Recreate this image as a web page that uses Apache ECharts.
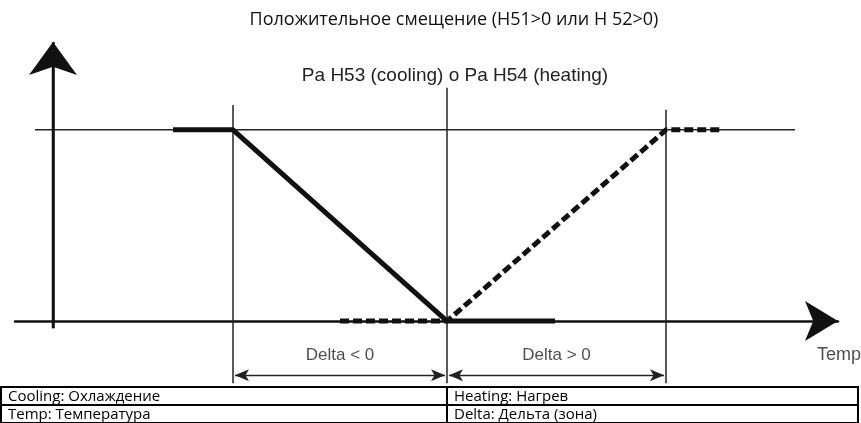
<!DOCTYPE html>
<html><head><meta charset="utf-8">
<script src="https://cdn.jsdelivr.net/npm/echarts@6/dist/echarts.min.js"></script>
<style>html,body{margin:0;padding:0;background:#fff}#c{width:861px;height:423px}</style>
</head><body><div id="c"></div>
<script>
// ---- data (arbitrary temperature units, output 0..1) ----
const titleText = 'Положительное смещение (H51>0 или H 52>0)';
const paramText = 'Pa H53 (cooling) o Pa H54 (heating)';
const coolingX = [12, 18, 39.4, 50.2];
const coolingY = [1, 1, 0, 0];
const heatingX = [28.7, 39.4, 61.3, 66.7];
const heatingY = [0, 0, 1, 1];
const levelX = [-1.8, 74.2];
const levelY = [1, 1];
const guideX = [18, 39.4, 61.3];
const guideTop = [1.13, 1.22, 1.105];
const guideBottom = -0.325;
const yAxisLine = [[0, -0.037], [0, 1.46]];
const deltaY = -0.283;
const deltaSpans = [[18, 39.4], [39.4, 61.3]];
const deltaLabels = ['Delta < 0', 'Delta > 0'];
const deltaLabelY = -0.178;
const tempLabel = ['Temp', 76.4, -0.178];
const tableRows = [
  ['Cooling: Охлаждение', 'Heating: Нагрев'],
  ['Temp: Температура', 'Delta: Дельта (зона)']
];

const chart = echarts.init(document.getElementById('c'), null, {renderer: 'canvas'});
const thin = {color: '#222', width: 1.5};
const zip = (xs, ys) => xs.map((x, i) => [x, ys[i]]);

const series = [];
// horizontal level line
series.push({type: 'line', data: zip(levelX, levelY), symbol: 'none', lineStyle: thin, silent: true, z: 1});
// vertical guides
guideX.forEach((x, i) => {
  series.push({type: 'line', data: [[x, guideBottom], [x, guideTop[i]]], symbol: 'none', lineStyle: thin, silent: true, z: 1});
});
// y axis shaft
series.push({type: 'line', data: [yAxisLine[0], [yAxisLine[1][0], yAxisLine[1][1] - 0.1]], symbol: 'none', silent: true, z: 2,
  lineStyle: {color: '#111', width: 2.5}});
// y axis arrow head
series.push({type: 'line', data: [], symbol: 'none', silent: true, z: 2,
  markLine: {silent: true, symbol: ['none', 'arrow'], symbolSize: [36, 33], label: {show: false},
    lineStyle: {color: '#111', width: 2.5, type: 'solid'},
    data: [[{coord: yAxisLine[0]}, {coord: yAxisLine[1]}]]}});
// delta arrows
series.push({type: 'line', data: [], symbol: 'none', silent: true,
  markLine: {silent: true, symbol: ['arrow', 'arrow'], symbolSize: [9, 14], label: {show: false},
    lineStyle: {color: '#222', width: 1.4, type: 'solid'},
    data: deltaSpans.map(s => [{coord: [s[0] + 0.2, deltaY]}, {coord: [s[1] - 0.2, deltaY]}])}});
// heating dashed
series.push({type: 'line', data: zip(heatingX, heatingY), symbol: 'none', silent: true, z: 3,
  lineStyle: {color: '#111', width: 5, type: [9, 4], cap: 'butt'}});
// cooling solid
series.push({type: 'line', data: zip(coolingX, coolingY), symbol: 'none', silent: true, z: 4,
  lineStyle: {color: '#111', width: 5, cap: 'butt'}});
// labels
series.push({type: 'scatter', symbolSize: 0, silent: true, z: 5,
  data: deltaSpans.map((s, i) => ({value: [(s[0] + s[1]) / 2, deltaLabelY], label: {formatter: deltaLabels[i]}})),
  label: {show: true, position: 'inside', color: '#222', fontFamily: 'Liberation Sans', fontSize: 17}});
series.push({type: 'scatter', symbolSize: 0, silent: true, z: 5,
  data: [{value: [tempLabel[1], tempLabel[2]], label: {formatter: tempLabel[0]}}],
  label: {show: true, position: 'right', distance: 0, color: '#222', fontFamily: 'Liberation Sans', fontSize: 18}});

const tTop = 387, rowH = 18, split = 447;
const graphic = [
  {type: 'rect', shape: {x: 1, y: tTop, width: 857, height: rowH * 2}, style: {fill: 'none', stroke: '#000', lineWidth: 2}},
  {type: 'line', shape: {x1: 1, y1: tTop + rowH, x2: 858, y2: tTop + rowH}, style: {stroke: '#000', lineWidth: 2}},
  {type: 'line', shape: {x1: split, y1: tTop, x2: split, y2: tTop + rowH * 2}, style: {stroke: '#000', lineWidth: 2}}
];
tableRows.forEach((row, r) => {
  row.forEach((txt, c) => {
    graphic.push({type: 'text', x: c === 0 ? 8 : split + 7, y: tTop + rowH * r + rowH / 2 + 1,
      style: {text: txt, fill: '#000', font: '15px "Open Sans"', textVerticalAlign: 'middle'}});
  });
});

chart.setOption({
  animation: false,
  backgroundColor: '#fff',
  title: [
    {text: titleText, left: 449, top: 6, textAlign: 'center', textStyle: {fontFamily: 'Open Sans', fontWeight: 'normal', fontSize: 18, color: '#111'}},
    {text: paramText, left: 450, top: 61, textAlign: 'center', textStyle: {fontFamily: 'Liberation Sans', fontWeight: 'normal', fontSize: 19, color: '#222'}}
  ],
  grid: {left: 15, right: 23, top: 40, bottom: 35},
  xAxis: {type: 'value', min: -3.8, max: 78.5, axisLine: {onZero: true, symbol: ['none', 'arrow'], symbolSize: [30, 33], lineStyle: {color: '#111', width: 2.5}},
    axisTick: {show: false}, axisLabel: {show: false}, splitLine: {show: false}},
  yAxis: {type: 'value', min: -0.35, max: 1.47, axisLine: {show: false}, axisTick: {show: false}, axisLabel: {show: false}, splitLine: {show: false}},
  series: series,
  graphic: graphic
});
</script></body></html>
